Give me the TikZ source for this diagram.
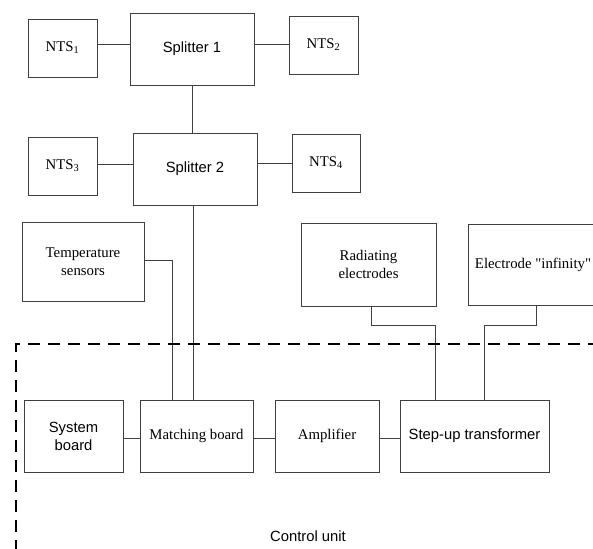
\documentclass[tikz,border=0pt]{standalone}
\usepackage{fontspec}
\setmainfont[Ligatures=TeXOff]{Liberation Serif}
\newfontfamily\arialf{Liberation Sans}
\begin{document}
\begin{tikzpicture}[x=1pt,y=-1pt,
  box/.style={draw=black!75,line width=0.9pt,inner sep=0pt,align=center,
    font=\fontsize{14.8}{18}\selectfont},
  sbox/.style={box,font=\arialf\fontsize{14.8}{18}\selectfont},
  wire/.style={draw=black!75,line width=0.9pt},
  frame/.style={draw=black,line width=1.4pt,dash pattern=on 12pt off 8pt}]
\useasboundingbox (0,0) rectangle (593,548);
\clip (0,0) rectangle (593,548);
% top part
\node[box,minimum width=69,minimum height=58] (nts1) at (62.5,48) {NTS\textsubscript{1}};
\node[sbox,minimum width=124,minimum height=72] (sp1) at (192,49) {Splitter 1};
\node[box,minimum width=69,minimum height=58] (nts2) at (323.5,45) {NTS\textsubscript{2}};
\node[sbox,minimum width=124,minimum height=72] (sp2) at (195,169) {Splitter 2};
\node[box,minimum width=69,minimum height=58] (nts3) at (62.5,166) {NTS\textsubscript{3}};
\node[box,minimum width=68,minimum height=58] (nts4) at (326,163) {NTS\textsubscript{4}};
\node[box,minimum width=122,minimum height=79] (temp) at (83,261.5) {Temperature\\sensors};
\node[box,minimum width=135,minimum height=83] (rad) at (368.5,264.5) {Radiating\\electrodes};
\node[box,minimum width=136,minimum height=81] (elec) at (536,264.5) {Electrode "infinity"\kern6pt};
% bottom row
\node[sbox,minimum width=99,minimum height=72] (sys) at (73.5,436) {System\\board};
\node[box,minimum width=113,minimum height=72] (match) at (196.5,436) {Matching board};
\node[box,minimum width=104,minimum height=72] (amp) at (327,436) {Amplifier};
\node[sbox,minimum width=149,minimum height=72] (step) at (474.5,436) {Step-up transformer};
\node[font=\arialf\fontsize{14.8}{18}\selectfont,inner sep=0pt] (cu) at (308,536) {Control unit};
% helper coordinates
\coordinate (y1) at (0,44);
\coordinate (y3) at (0,164);
\coordinate (y4) at (0,163);
\coordinate (yb) at (0,438);
\coordinate (xs) at (192,0);
\coordinate (xs2) at (193.5,0);
\coordinate (tb) at (172,260);
\coordinate (ra) at (371,325);
\coordinate (rb) at (435,325);
\coordinate (ea) at (536,325);
\coordinate (eb) at (484,325);
% connectors
\draw[wire] (nts1.east |- y1) -- (sp1.west |- y1);
\draw[wire] (sp1.east |- y1) -- (nts2.west |- y1);
\draw[wire] (nts3.east |- y3) -- (sp2.west |- y3);
\draw[wire] (sp2.east |- y4) -- (nts4.west |- y4);
\draw[wire] (sp1.south -| xs) -- (sp2.north -| xs);
\draw[wire] (sp2.south -| xs2) -- (match.north -| xs2);
\draw[wire] (temp.east |- tb) -- (tb) -- (match.north -| tb);
\draw[wire] (sys.east |- yb) -- (match.west |- yb);
\draw[wire] (match.east |- yb) -- (amp.west |- yb);
\draw[wire] (amp.east |- yb) -- (step.west |- yb);
\draw[wire] (rad.south -| ra) -- (ra) -- (rb) -- (step.north -| rb);
\draw[wire] (elec.south -| ea) -- (ea) -- (eb) -- (step.north -| eb);
% control unit frame
\coordinate (fa) at (600,344);
\coordinate (fb) at (16,344);
\coordinate (fc) at (16,560);
\draw[frame] (fa) -- (fb) -- (fc);
\end{tikzpicture}
\end{document}
